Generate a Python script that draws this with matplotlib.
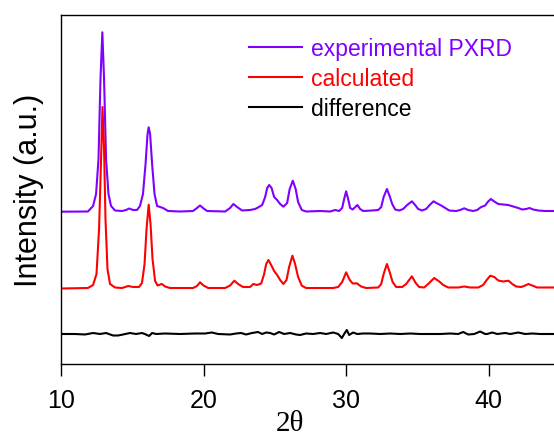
import matplotlib
matplotlib.use("Agg")
import matplotlib.pyplot as plt

# ---------------- data ----------------
# experimental PXRD (stacked, plot units)
exp_x = [10.0, 11.89, 12.25, 12.46, 12.63, 12.77, 12.90, 13.02, 13.16, 13.33, 13.51, 13.79,
         14.28, 14.56, 14.79, 15.05, 15.33, 15.54, 15.75, 15.93, 16.07, 16.15, 16.25, 16.39,
         16.56, 16.74, 16.95, 17.16, 17.51, 18.35, 19.26, 19.54, 19.75, 19.96, 20.25, 21.51,
         21.86, 22.09, 22.35, 22.70, 23.26, 23.61, 23.82, 24.11, 24.32, 24.46, 24.60, 24.77,
         24.95, 25.16, 25.37, 25.60, 25.86, 26.04, 26.26, 26.46, 26.63, 26.89, 27.19, 28.18,
         28.88, 29.23, 29.51, 29.72, 29.86, 30.00, 30.14, 30.28, 30.46, 30.79, 30.98, 31.19,
         31.82, 32.25, 32.46, 32.63, 32.86, 33.05, 33.23, 33.44, 33.72, 34.00, 34.28, 34.61,
         34.84, 35.05, 35.33, 35.61, 35.86, 36.13, 36.39, 36.67, 36.95, 37.23, 37.72, 38.00,
         38.28, 38.56, 38.91, 39.19, 39.47, 39.75, 39.96, 40.15, 40.39, 40.67, 41.02, 41.37,
         41.72, 42.07, 42.35, 42.63, 42.86, 43.12, 43.47, 43.96, 45.0]
exp_y = [152.3, 152.5, 158, 170, 205, 285, 331.7, 285, 205, 170, 158, 153.5,
         153, 154, 155.5, 154, 154, 158, 170, 200, 230, 236.7, 230, 200,
         170, 158, 157, 156, 153, 152.5, 153, 156, 158.5, 156, 153, 152.5,
         156, 160, 157, 153.5, 154, 155, 156.5, 159, 167, 176, 179, 176,
         167, 164, 160, 157.3, 161, 175, 183.3, 175, 162, 154, 152.5, 153,
         152.5, 154, 153, 156, 165, 172.7, 165, 156, 154.5, 159, 155, 153,
         153.5, 154, 157, 167, 175, 168, 160, 154.5, 153.5, 155, 159, 162.7,
         159, 155, 153.5, 155, 159, 162.7, 160.5, 158.5, 156, 153.5, 153, 154,
         155.7, 154, 153, 154, 157, 158.5, 162.5, 165, 162.5, 160, 159.5, 159,
         157.5, 156, 154.5, 155, 156, 154.5, 153.5, 153, 153]

# calculated pattern (stacked, plot units)
calc_x = [10.0, 11.89, 12.25, 12.49, 12.67, 12.81, 12.91, 13.02, 13.12, 13.26, 13.44, 13.79,
          14.28, 14.72, 15.05, 15.47, 15.68, 15.86, 16.00, 16.15, 16.28, 16.42, 16.60, 16.77,
          17.07, 17.30, 17.65, 19.26, 19.54, 19.75, 20.00, 20.32, 21.51, 21.86, 22.16, 22.42,
          22.77, 23.26, 23.49, 23.75, 24.04, 24.25, 24.39, 24.55, 24.74, 24.95, 25.16, 25.37,
          25.60, 25.82, 26.00, 26.23, 26.42, 26.63, 26.89, 27.19, 29.09, 29.44, 29.72, 30.00,
          30.25, 30.46, 30.75, 31.05, 31.40, 32.25, 32.46, 32.63, 32.86, 33.05, 33.26, 33.51,
          33.93, 34.21, 34.61, 34.88, 35.12, 35.47, 35.75, 36.18, 36.53, 36.81, 37.16, 37.86,
          38.28, 38.70, 39.26, 39.61, 39.86, 40.11, 40.39, 40.67, 41.02, 41.39, 41.65, 41.93,
          42.28, 42.56, 42.79, 43.05, 43.40, 45.0]
calc_y = [75.5, 76, 79, 90, 135, 205, 257, 215, 145, 95, 80, 76.5,
          76, 78, 77, 77, 81, 100, 135, 159.3, 140, 105, 83, 78.5,
          80, 77.5, 76, 76, 78, 81.7, 78.5, 76, 76, 78.5, 83.3, 80,
          77, 77, 80, 79, 80.5, 90, 100, 104, 99, 93, 89, 84,
          80, 84, 97, 108.3, 100, 87, 78.3, 76, 76, 77, 82, 91.7,
          84, 80.5, 80.7, 77.5, 76, 76.5, 80, 90, 100, 92, 82, 77,
          77, 80, 87.7, 81, 77, 76.5, 80, 86, 82.5, 79, 76.5, 76.5,
          77.5, 76.5, 76.5, 79, 84, 88.3, 87, 83.5, 82.5, 83.3, 80, 77.5,
          77, 78.5, 80, 78.5, 76.5, 76.5]

# difference (stacked, plot units)
diff_x = [10.0, 10.98, 11.68, 12.25, 12.74, 13.16, 13.65, 14.00, 14.35, 14.84, 15.26, 15.68,
          15.96, 16.18, 16.39, 16.67, 17.30, 18.35, 19.40, 20.11, 20.58, 21.02, 21.86, 22.28,
          22.63, 22.98, 23.40, 23.82, 24.11, 24.39, 24.67, 24.95, 25.30, 25.65, 26.07, 26.49,
          26.77, 27.19, 27.68, 28.18, 28.60, 29.09, 29.44, 29.70, 29.86, 30.05, 30.21, 30.49,
          30.77, 31.19, 31.68, 32.39, 33.09, 33.79, 34.49, 35.19, 35.89, 36.60, 37.30, 37.86,
          38.21, 38.56, 38.98, 39.40, 39.75, 39.89, 40.25, 40.60, 41.16, 41.51, 42.07, 42.56,
          43.05, 43.61, 45.0]
diff_y = [30, 30, 29.5, 31, 30, 31, 28.5, 28.5, 29.5, 31, 30, 31,
          29.5, 28, 31, 30, 30.5, 30, 30.5, 30.5, 31.5, 30, 29.5, 30.5,
          31, 29.5, 31, 32, 30, 31.5, 31, 29.5, 32, 30, 31, 29.5,
          29, 30.5, 30, 31, 30, 31.5, 30, 26, 30, 34, 29, 31.5,
          30, 30.5, 30.5, 30, 30.5, 30, 30.5, 30, 30, 30, 30.5, 30,
          32, 29.5, 30, 32.5, 30, 30, 31.5, 30, 31, 30, 31.5, 30,
          30.5, 30, 30]

series_labels = ["experimental PXRD", "calculated", "difference"]
series_colors = ["#8000FF", "#FF0000", "#000000"]
x_ticks = [10, 20, 30, 40]

# ---------------- figure ----------------
W, H = 554, 439
fig = plt.figure(figsize=(W / 100, H / 100), dpi=100)
ax = fig.add_axes([61 / W, 1 - 365 / H, (560 - 61) / W, (365 - 16) / H])

lines = []
for xs, ys, lab, col in zip([exp_x, calc_x, diff_x], [exp_y, calc_y, diff_y],
                            series_labels, series_colors):
    ln, = ax.plot(xs, ys, color=col, lw=1.5, label=lab)
    lines.append(ln)

ax.set_xlim(10, 45)
ax.set_ylim(0, 349)
ax.set_xticks(x_ticks)
ax.set_xticklabels([str(t) for t in x_ticks], fontsize=18, family="Liberation Sans")
ax.set_yticks([])
ax.tick_params(axis="x", direction="out", length=8.5, width=1.0, pad=9)
for s in ["left", "bottom", "top"]:
    ax.spines[s].set_linewidth(1.0)
ax.spines["right"].set_visible(False)

ax.set_ylabel("Intensity (a.u.)", fontsize=22, family="Liberation Sans", labelpad=12)
fig.text(290 / W, 1 - 431 / H, "2\u03b8", fontsize=21, family="Liberation Serif",
         ha="center", va="baseline")

leg = ax.legend(handles=lines, loc="upper left", bbox_to_anchor=((240 - 61) / 499, 1 - 13 / 349),
                frameon=False, prop={"family": "Liberation Sans", "size": 16.5},
                handlelength=2.3, handletextpad=0.4, labelspacing=0.3, borderaxespad=0)
for txt, col in zip(leg.get_texts(), series_colors):
    txt.set_color(col)

fig.savefig("out.png", dpi=100)
